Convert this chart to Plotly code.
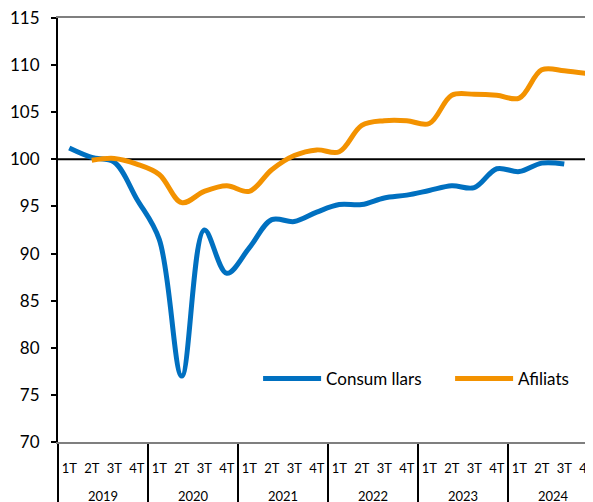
import plotly.graph_objects as go

years = ["2019"] * 4 + ["2020"] * 4 + ["2021"] * 4 + ["2022"] * 4 + ["2023"] * 4 + ["2024"] * 4
quarters = ["1T", "2T", "3T", "4T"] * 6

consum_llars = [101.2, 100.2, 99.7, 95.8, 91.5, 77.0, 92.5, 87.9, 90.6, 93.6, 93.4, 94.4,
                95.2, 95.2, 95.9, 96.2, 96.7, 97.2, 97.0, 99.0, 98.7, 99.6, 99.5, None]
afiliats = [None, 99.9, 100.1, 99.5, 98.4, 95.4, 96.6, 97.2, 96.6, 98.9, 100.4, 101.0,
            100.8, 103.6, 104.1, 104.1, 103.8, 106.8, 106.9, 106.8, 106.5, 109.5, 109.4, 109.1]

BASE = 100
y_ticks = [70, 75, 80, 85, 90, 95, 100, 105, 110, 115]

FONT = "Lato"
BLUE = "#0070C0"
ORANGE = "#F39200"

# category labels: 13px text; year row pushed one (wider) line lower, as in the reference
SPAN = "<span style='font-size:13px'>{}</span>"
year_labels = ["<br>" + SPAN.format(y) for y in years]
quarter_labels = [SPAN.format(q) for q in quarters]

fig = go.Figure()
fig.add_trace(go.Scatter(x=[year_labels, quarter_labels], y=consum_llars, name="Consum llars",
                         mode="lines", hoverinfo="y",
                         line=dict(color=BLUE, width=5, shape="spline", smoothing=1.0),
                         connectgaps=False, legendwidth=119))
fig.add_trace(go.Scatter(x=[year_labels, quarter_labels], y=afiliats, name="Afiliats",
                         mode="lines", hoverinfo="y",
                         line=dict(color=ORANGE, width=5, shape="spline", smoothing=1.0),
                         connectgaps=False, legendwidth=55))

fig.add_shape(type="line", xref="paper", x0=0, x1=1, yref="y", y0=BASE, y1=BASE,
              line=dict(color="black", width=2), layer="below")

fig.update_layout(
    width=585, height=494,
    margin=dict(l=50, r=0, t=10, b=60),
    paper_bgcolor="white", plot_bgcolor="white",
    font=dict(family=FONT, color="black"),
    showlegend=True,
    legend=dict(orientation="h", x=0.374, xanchor="left",
                y=(442 - 379) / 424, yanchor="middle",
                font=dict(family=FONT, size=17, color="black"),
                bgcolor="rgba(0,0,0,0)", itemwidth=58,
                tracegroupgap=0),
    xaxis=dict(type="multicategory", range=[-0.5, 23.5 - 5 / 22.5], automargin=False,
               showline=True, linecolor="#7f7f7f", linewidth=2, mirror=True,
               showgrid=False, ticks="", tickangle=0, ticklabelstandoff=10,
               ticklabeloverflow="allow",
               tickfont=dict(family=FONT, size=15.5, color="black"),
               showdividers=True, dividercolor="black", dividerwidth=2),
    yaxis=dict(range=[70, 115], tickvals=y_ticks, ticktext=[str(v) for v in y_ticks],
               automargin=False, ticklabeloverflow="allow",
               showline=True, linecolor="black", linewidth=2,
               ticks="outside", ticklen=5, tickcolor="black", tickwidth=1.5,
               showgrid=False, zeroline=False, ticklabelstandoff=8,
               tickfont=dict(family=FONT, size=17, color="black")),
)

fig.write_html("out.html")
